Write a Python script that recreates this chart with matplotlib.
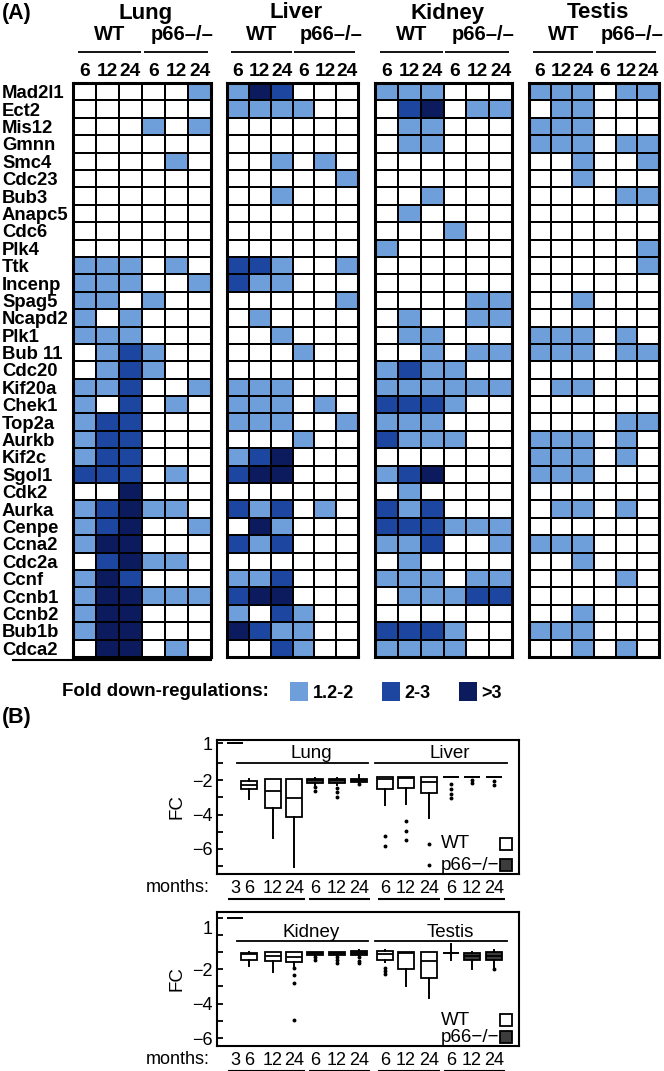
import numpy as np
import matplotlib
matplotlib.use("Agg")
import matplotlib.pyplot as plt
from matplotlib.colors import ListedColormap
from matplotlib.patches import Patch
from matplotlib.lines import Line2D
from matplotlib.transforms import blended_transform_factory, ScaledTranslation

plt.rcParams['font.family'] = ['Liberation Sans', 'DejaVu Sans']

# ---------------- data: panel A (fold down-regulation class per cell) ----------------
# 0 = none, 1 = 1.2-2, 2 = 2-3, 3 = >3 ; columns: WT 6/12/24, p66-/- 6/12/24 months
genes = ["Mad2l1", "Ect2", "Mis12", "Gmnn", "Smc4", "Cdc23", "Bub3", "Anapc5", "Cdc6",
         "Plk4", "Ttk", "Incenp", "Spag5", "Ncapd2", "Plk1", "Bub 11", "Cdc20", "Kif20a",
         "Chek1", "Top2a", "Aurkb", "Kif2c", "Sgol1", "Cdk2", "Aurka", "Cenpe", "Ccna2",
         "Cdc2a", "Ccnf", "Ccnb1", "Ccnb2", "Bub1b", "Cdca2"]
tissues = ["Lung", "Liver", "Kidney", "Testis"]
conditions = ["WT", "p66–/–"]
hm_months = ["6", "12", "24", "6", "12", "24"]
fold_labels = ["1.2-2", "2-3", ">3"]
fold_colors = ["#ffffff", "#6e9fdb", "#1c469f", "#0b1b5e"]

lung = [
    [0, 0, 0, 0, 0, 1], [0, 0, 0, 0, 0, 0], [0, 0, 0, 1, 0, 1], [0, 0, 0, 0, 0, 0],
    [0, 0, 0, 0, 1, 0], [0, 0, 0, 0, 0, 0], [0, 0, 0, 0, 0, 0], [0, 0, 0, 0, 0, 0],
    [0, 0, 0, 0, 0, 0], [0, 0, 0, 0, 0, 0], [1, 1, 1, 0, 1, 0], [1, 1, 1, 0, 0, 1],
    [1, 1, 0, 1, 0, 0], [1, 0, 1, 0, 0, 0], [1, 1, 1, 0, 0, 0], [0, 1, 2, 1, 0, 0],
    [0, 1, 2, 1, 0, 0], [1, 1, 2, 0, 0, 1], [1, 0, 2, 0, 1, 0], [1, 2, 2, 0, 0, 0],
    [1, 2, 2, 0, 0, 0], [1, 2, 2, 0, 0, 0], [2, 2, 2, 0, 1, 0], [0, 0, 3, 0, 0, 0],
    [1, 2, 3, 1, 1, 0], [1, 2, 3, 0, 0, 1], [1, 3, 3, 0, 0, 0], [0, 2, 3, 1, 1, 0],
    [1, 3, 2, 0, 0, 0], [1, 3, 3, 1, 1, 1], [1, 3, 3, 0, 0, 0], [1, 3, 3, 0, 0, 0],
    [0, 3, 3, 0, 1, 0],
]
liver = [
    [1, 3, 2, 0, 0, 0], [1, 1, 1, 1, 0, 0], [0, 0, 0, 0, 0, 0], [0, 0, 0, 0, 0, 0],
    [0, 0, 1, 0, 1, 0], [0, 0, 0, 0, 0, 1], [0, 0, 1, 0, 0, 0], [0, 0, 0, 0, 0, 0],
    [0, 0, 0, 0, 0, 0], [0, 0, 0, 0, 0, 0], [2, 2, 1, 0, 0, 1], [2, 1, 1, 0, 0, 0],
    [0, 0, 0, 0, 0, 1], [0, 1, 0, 0, 0, 0], [0, 0, 1, 0, 0, 0], [0, 0, 0, 1, 0, 0],
    [0, 0, 0, 0, 0, 0], [1, 1, 1, 0, 0, 0], [1, 1, 1, 0, 1, 0], [1, 1, 1, 0, 0, 1],
    [0, 0, 0, 1, 0, 0], [1, 2, 3, 0, 0, 0], [2, 3, 3, 0, 0, 0], [0, 0, 0, 0, 0, 0],
    [2, 1, 2, 0, 1, 0], [0, 3, 1, 0, 0, 0], [2, 1, 2, 0, 0, 0], [0, 0, 0, 0, 0, 0],
    [1, 1, 2, 0, 0, 0], [2, 3, 3, 0, 0, 0], [1, 0, 2, 1, 0, 0], [3, 2, 1, 1, 0, 0],
    [0, 0, 2, 1, 0, 0],
]
kidney = [
    [1, 1, 1, 0, 0, 0], [0, 2, 3, 0, 1, 1], [0, 1, 1, 0, 0, 0], [0, 1, 1, 0, 0, 0],
    [0, 0, 0, 0, 0, 0], [0, 0, 0, 0, 0, 0], [0, 0, 1, 0, 0, 0], [0, 1, 0, 0, 0, 0],
    [0, 0, 0, 1, 0, 0], [1, 0, 0, 0, 0, 0], [0, 0, 0, 0, 0, 0], [0, 0, 0, 0, 0, 0],
    [0, 0, 0, 0, 1, 1], [0, 1, 0, 0, 1, 1], [0, 1, 1, 0, 0, 0], [0, 0, 1, 0, 1, 1],
    [1, 2, 1, 1, 0, 0], [1, 1, 1, 1, 1, 1], [2, 2, 2, 1, 0, 0], [1, 1, 1, 0, 0, 0],
    [2, 1, 1, 1, 0, 0], [0, 0, 0, 0, 0, 0], [1, 2, 3, 0, 0, 0], [0, 1, 0, 0, 0, 0],
    [2, 1, 2, 0, 0, 0], [2, 2, 2, 1, 1, 1], [1, 1, 2, 0, 0, 1], [0, 1, 0, 0, 0, 0],
    [1, 1, 1, 0, 1, 1], [0, 1, 1, 1, 2, 2], [0, 0, 0, 0, 0, 0], [2, 2, 2, 1, 0, 0],
    [1, 1, 1, 1, 0, 0],
]
testis = [
    [1, 1, 1, 0, 1, 1], [0, 1, 1, 0, 0, 0], [1, 1, 1, 0, 0, 0], [1, 1, 1, 0, 1, 1],
    [0, 0, 1, 0, 0, 1], [0, 0, 1, 0, 0, 0], [0, 0, 0, 0, 1, 1], [0, 0, 0, 0, 0, 0],
    [0, 0, 0, 0, 0, 0], [0, 0, 0, 0, 0, 1], [0, 0, 0, 0, 0, 1], [0, 0, 0, 0, 0, 0],
    [0, 0, 1, 0, 0, 0], [0, 0, 0, 0, 0, 0], [1, 1, 1, 0, 1, 0], [1, 1, 1, 0, 1, 1],
    [0, 0, 0, 0, 0, 0], [0, 1, 1, 0, 0, 0], [0, 0, 0, 0, 0, 0], [0, 0, 0, 0, 1, 1],
    [1, 1, 1, 0, 1, 0], [1, 1, 1, 0, 1, 0], [1, 1, 1, 0, 0, 0], [0, 0, 0, 0, 0, 0],
    [0, 1, 1, 0, 1, 0], [0, 0, 0, 0, 0, 0], [1, 1, 1, 0, 0, 0], [0, 0, 1, 0, 0, 0],
    [0, 0, 0, 0, 1, 0], [0, 0, 0, 0, 0, 0], [0, 0, 1, 0, 0, 0], [1, 1, 1, 0, 0, 0],
    [0, 0, 1, 0, 1, 0],
]
hm_data = {"Lung": lung, "Liver": liver, "Kidney": kidney, "Testis": testis}

# ---------------- data: panel B (box plot summaries of FC) ----------------
# box order: 3 mo reference, tissue1 WT 6/12/24, tissue1 p66 6/12/24, tissue2 WT 6/12/24, tissue2 p66 6/12/24
box_months = ["3", "6", "12", "24", "6", "12", "24", "6", "12", "24", "6", "12", "24"]
box_mutant = [False, False, False, False, True, True, True, False, False, False, True, True, True]
top_tissues = ["Lung", "Liver"]
bot_tissues = ["Kidney", "Testis"]

top_whishi = [1, -1.9, -1.9, -1.9, -1.85, -1.85, -1.7, -1.78, -1.78, -1.78, -1.78, -1.78, -1.78]
top_q3 = [1, -2.05, -1.9, -1.9, -1.9, -1.9, -1.9, -1.78, -1.78, -1.78, -1.78, -1.78, -1.78]
top_med = [1, -2.3, -2.6, -3.02, -2.0, -2.0, -2.0, -1.94, -1.85, -2.1, -1.78, -1.78, -1.78]
top_q1 = [1, -2.5, -3.6, -4.14, -2.14, -2.18, -2.12, -2.49, -2.47, -2.76, -1.78, -1.78, -1.78]
top_whislo = [1, -3.1, -5.37, -7.04, -2.3, -2.3, -2.2, -3.45, -3.37, -4.2, -1.78, -1.78, -1.78]
top_fliers = [[], [], [], [], [-2.4, -2.6], [-2.45, -2.7, -2.98], [-2.24], [-5.24, -5.82],
              [-4.4, -4.98, -5.5], [-5.73, -6.94], [-2.24, -2.53, -2.82, -3.06], [-1.98, -2.18],
              [-2.04, -2.27]]

bot_whishi = [1, -1.0, -0.98, -0.98, -0.98, -0.98, -0.9, -0.88, -0.98, -0.98, -0.55, -1.0, -0.88]
bot_q3 = [1, -1.04, -0.98, -0.98, -0.98, -0.98, -0.94, -0.94, -0.98, -0.98, -1.04, -1.04, -0.98]
bot_med = [1, -1.1, -1.23, -1.31, -1.05, -1.05, -1.05, -1.1, -1.05, -1.52, -1.04, -1.25, -1.2]
bot_q1 = [1, -1.46, -1.52, -1.56, -1.17, -1.17, -1.17, -1.46, -2.0, -2.48, -1.04, -1.46, -1.46]
bot_whislo = [1, -1.81, -2.13, -1.8, -1.2, -1.2, -1.2, -1.6, -2.96, -3.67, -1.45, -2.0, -2.0]
bot_fliers = [[], [], [], [-1.94, -2.33, -2.81, -4.92], [-1.31, -1.46], [-1.31, -1.46, -1.62],
              [-1.3, -1.5, -1.62], [-1.94, -2.1, -2.3], [], [], [], [], [-2.0]]

# ---------------- layout ----------------
W, H = 664, 1071
fig = plt.figure(figsize=(W / 100, H / 100), dpi=100)
fig.patch.set_facecolor("white")


def rect(x0, x1, y0, y1):
    return [x0 / W, 1 - y1 / H, (x1 - x0) / W, (y1 - y0) / H]


FS = 12.5
FSA = 13.3
fig.text(2 / W, 1 - 14 / H, "(A)", fontsize=15.5, fontweight="bold", va="center")
fig.text(2 / W, 1 - 718 / H, "(B)", fontsize=15.5, fontweight="bold", va="center")

# panel A heatmaps
cmap = ListedColormap(fold_colors)
hm_x = [(73, 211), (227, 358), (375, 512), (529, 659)]
hm_top, hm_bot = 83, 657
hpx = hm_bot - hm_top
for k, t in enumerate(tissues):
    x0, x1 = hm_x[k]
    ax = fig.add_axes(rect(x0, x1, hm_top, hm_bot))
    M = np.array(hm_data[t])
    ax.pcolormesh(M, cmap=cmap, vmin=-0.5, vmax=3.5, edgecolors="black", linewidth=1.4)
    ax.set_xlim(0, 6)
    ax.set_ylim(len(genes), 0)
    for s in ax.spines.values():
        s.set_linewidth(2.2)
    ax.xaxis.tick_top()
    ax.set_xticks(np.arange(6) + 0.5, hm_months, fontsize=13.8, fontweight="bold")
    ax.tick_params(axis="x", length=0, pad=2)
    if k == 0:
        ax.set_yticks(np.arange(len(genes)) + 0.5, genes, fontsize=FSA, fontweight="bold")
        ax.tick_params(axis="y", length=0, pad=(x0 - 2) * 0.72)
        for lab in ax.get_yticklabels():
            lab.set_ha("left")
    else:
        ax.set_yticks([])

    tr = blended_transform_factory(ax.transData, ax.transAxes)

    def ay(ypx):
        return 1 + (hm_top - ypx) / hpx

    wt_x, mu_x = 1.6, 4.75
    ax.text(wt_x, ay(35), conditions[0], transform=tr, ha="center", va="center",
            fontsize=14.5, fontweight="bold")
    ax.text(mu_x, ay(35), conditions[1], transform=tr, ha="center", va="center",
            fontsize=14.5, fontweight="bold")
    ax.text((wt_x + mu_x) / 2, ay(13), t, transform=tr, ha="center", va="center",
            fontsize=16, fontweight="bold")
    for a, b in [(0.2, 2.97), (3.07, 5.87)]:
        ax.plot([a, b], [ay(52), ay(52)], transform=tr, color="black", lw=1.3,
                clip_on=False, solid_capstyle="butt")

fig.add_artist(Line2D([13 / W, 211 / W], [1 - 660 / H] * 2, color="black", lw=1.5))

# heatmap legend
fig.text(62 / W, 1 - 692 / H, "Fold down-regulations:", fontsize=13.5, fontweight="bold",
         va="center")
fig.legend(handles=[Patch(facecolor=c, edgecolor="none") for c in fold_colors[1:]],
           labels=fold_labels, ncol=3, loc="center left",
           bbox_to_anchor=(281 / W, 1 - 692 / H), frameon=False, borderpad=0,
           handlelength=1.0, handleheight=1.25, handletextpad=0.25, columnspacing=1.55,
           prop={"weight": "bold", "size": 13})

# ---------------- panel B ----------------
unit = 21.7
box_pos = [0, 0.65, 1.75, 2.72, 3.7, 4.7, 5.71, 6.91, 7.88, 8.94, 9.95, 10.92, 11.94]
groups = [(0, 3), (4, 6), (7, 9), (10, 12)]


def fc_scale(p1):
    # values above -1 are squeezed so that "1" sits at position p1
    k = (p1 + 1) / 2.0

    def fwd(v):
        v = np.asarray(v, dtype=float)
        return np.where(v <= -1, v, -1 + (v + 1) * k)

    def inv(p):
        p = np.asarray(p, dtype=float)
        return np.where(p <= -1, p, -1 + (p + 1) / k)

    return fwd, inv


def box_panel(y0, y1, names, whishi, q3, med, q1, whislo, fliers, p1, ylim, ticks, ticklabels,
              title_y, line_y, leg_y, one_shift):
    ax = fig.add_axes(rect(217, 519, y0, y1))
    ax.set_yscale("function", functions=fc_scale(p1))
    stats = [dict(med=m, q1=a, q3=b, whislo=lo, whishi=hi, fliers=f)
             for hi, b, m, a, lo, f in zip(whishi, q3, med, q1, whislo, fliers)]
    art = ax.bxp(stats, positions=box_pos, widths=0.72, patch_artist=True, showcaps=False,
                 boxprops=dict(linewidth=1.3, edgecolor="black"),
                 medianprops=dict(color="black", linewidth=1.3),
                 whiskerprops=dict(linewidth=1.4, color="black"),
                 flierprops=dict(marker="o", markersize=1.8, markerfacecolor="black",
                                 markeredgecolor="black"))
    for patch, mut in zip(art["boxes"], box_mutant):
        patch.set_facecolor("#3c3c3c" if mut else "white")

    ax.set_xlim((217 - 235) / unit, (519 - 235) / unit)
    ax.set_ylim(*ylim)
    ax.set_xticks(box_pos, box_months, fontsize=13)
    ax.tick_params(axis="x", length=0, pad=4)
    ax.set_yticks(ticks, ticklabels, fontsize=13)
    ax.tick_params(axis="y", direction="in", length=4, width=1.3, pad=3)
    for s in ax.spines.values():
        s.set_linewidth(1.5)
    lab1 = ax.get_yticklabels()[0]
    lab1.set_transform(lab1.get_transform() + ScaledTranslation(0, -one_shift / 100, fig.dpi_scale_trans))
    ax.set_ylabel("FC", fontsize=13.5, labelpad=5)

    tr = blended_transform_factory(ax.transData, ax.transAxes)
    hpx_b = y1 - y0
    # tissue titles inside the frame
    spans = [(box_pos[0] + 0.1, box_pos[6] + 0.42), (box_pos[7] - 0.45, box_pos[12] + 0.6)]
    for name, (a, b) in zip(names, spans):
        ax.plot([a, b], [line_y, line_y], transform=tr, color="black", lw=1.3)
        ax.text((a + b) / 2 + 0.4, title_y, name, transform=tr, ha="center", va="center",
                fontsize=13.5)
    # group underlines below month labels
    gl = -25 / hpx_b
    for i, j in groups:
        ax.plot([box_pos[i] - 0.3, box_pos[j] + 0.5], [gl, gl], transform=tr, color="black",
                lw=1.5, clip_on=False, solid_capstyle="butt")
    ax.text(-7 / 302, -14 / hpx_b, "months:", transform=ax.transAxes, ha="right", va="center",
            fontsize=13)
    # legend (text then marker)
    for lbl, face, yy in zip(["WT", "p66−/−"], ["white", "#3c3c3c"], leg_y):
        ax.text(0.74, yy, lbl, transform=ax.transAxes, ha="left", va="center", fontsize=13.5)
        ax.plot([0.958], [yy], transform=ax.transAxes, marker="s", markersize=8.5,
                markerfacecolor=face, markeredgecolor="black", markeredgewidth=1.3,
                linestyle="none", clip_on=False)
    return ax


box_panel(740, 874, top_tissues, top_whishi, top_q3, top_med, top_q1, top_whislo, top_fliers,
          p1=0.18, ylim=(-7.47, 1.3), ticks=[1, -1, -2, -3, -4, -5, -6, -7],
          ticklabels=["1", "", "−2", "", "−4", "", "−6", ""],
          title_y=0.90, line_y=0.83, leg_y=[0.224, 0.067], one_shift=0)

box_panel(912, 1046, bot_tissues, bot_whishi, bot_q3, bot_med, bot_q1, bot_whislo, bot_fliers,
          p1=1.0, ylim=(-6.46, 1.33), ticks=[1, 0, -1, -2, -3, -4, -5, -6],
          ticklabels=["1", "", "", "−2", "", "−4", "", "−6"],
          title_y=0.85, line_y=0.784, leg_y=[0.194, 0.067], one_shift=10)

fig.savefig("out.png", dpi=100)
